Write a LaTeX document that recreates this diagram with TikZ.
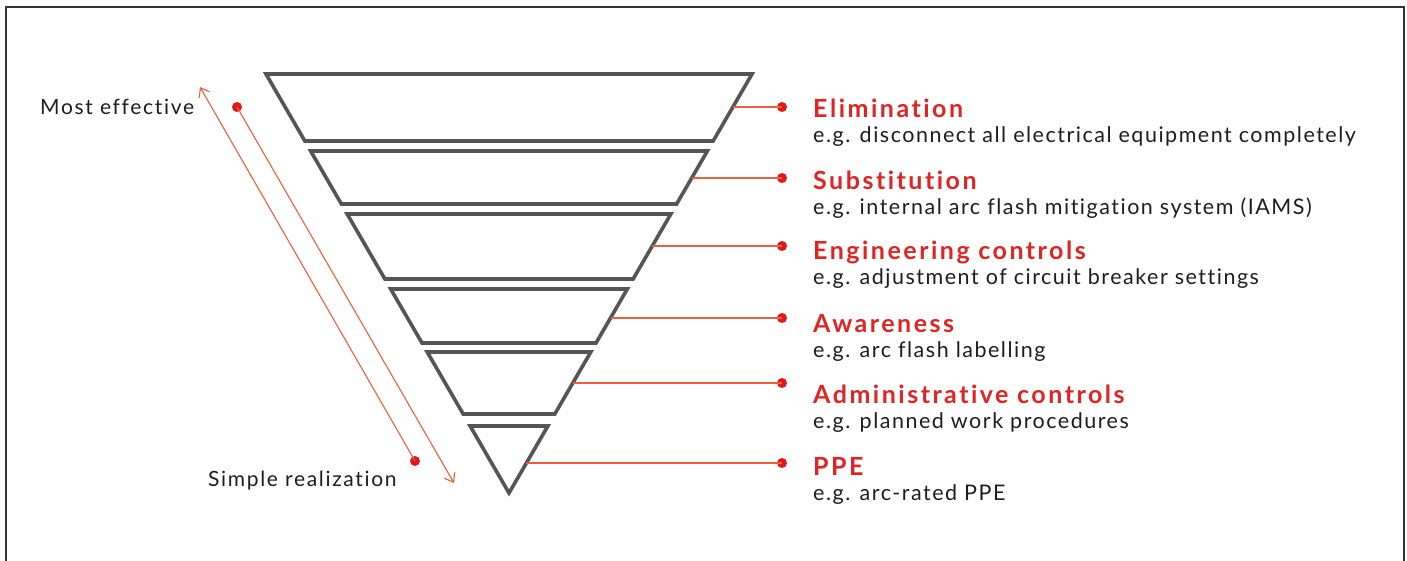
\documentclass[tikz,border=0pt]{standalone}
\usepackage{fontspec}
\setmainfont{Lato}
\newfontfamily\ttlfont[LetterSpace=10,Ligatures=NoCommon]{Lato}
\newfontfamily\dscfont[LetterSpace=7,Ligatures=NoCommon]{Lato}
\newfontfamily\sidefont[LetterSpace=8,Ligatures=NoCommon]{Lato}
\usetikzlibrary{arrows.meta}
\definecolor{bandgray}{HTML}{555555}
\definecolor{linered}{HTML}{E8603C}
\definecolor{dotred}{HTML}{E01818}
\definecolor{titlered}{HTML}{E02424}
\definecolor{textdark}{HTML}{1E1E1E}
\tikzset{
  band/.style={draw=bandgray, line width=3.6pt, line join=miter},
  conn/.style={draw=linered, line width=1.3pt},
  rdot/.style={circle, fill=dotred, inner sep=0pt, minimum size=10pt},
  ttl/.style={anchor=base west, inner sep=0pt, text=titlered, font=\ttlfont\fontsize{25}{28}\selectfont\bfseries},
  dsc/.style={anchor=base west, inner sep=0pt, text=textdark, font=\dscfont\fontsize{21.5}{24}\selectfont},
  side/.style={anchor=base west, inner sep=0pt, text=textdark, font=\sidefont\fontsize{21}{24}\selectfont},
  arr/.style={draw=linered, line width=1.1pt, -{Straight Barb[length=8pt,width=12pt]}},
}
\begin{document}
\begin{tikzpicture}[x=1pt,y=-1pt]
\useasboundingbox (0,0) rectangle (1407,560);
\fill[white] (0,0) rectangle (1407,560);
\draw[line width=2pt, draw=black!80] (6,7) rectangle (1404,580);
% bands: half-width = 0.58*(493-y), centre 509
\foreach \t/\b in {74/141,151/204,214/279,289/343,352/414} {
  \draw[band] ({509-0.58*(493-\t)},\t) -- ({509+0.58*(493-\t)},\t)
      -- ({509+0.58*(493-\b)},\b) -- ({509-0.58*(493-\b)},\b) -- cycle;
}
\draw[band] ({509-0.58*(493-426)},426) -- ({509+0.58*(493-426)},426) -- (509,493) -- cycle;
% connector start points on band right edges
\foreach \n/\y in {e1/107,e2/178,e3/246,e4/318,e5/383,e6/463} {
  \coordinate (\n) at ({509+0.58*(493-\y)},\y);
  \node[rdot] (d\n) at (782,\y) {};
  \draw[conn] (\n) -- (d\n.center);
}
% titles and descriptions
\node[ttl] (t1) at (813,117) {Elimination};
\node[dsc] (s1) at (813,142) {e.g. disconnect all electrical equipment completely};
\node[ttl] (t2) at (813,189) {Substitution};
\node[dsc] (s2) at (813,214) {e.g. internal arc flash mitigation system (IAMS)};
\node[ttl] (t3) at (813,259) {Engineering controls};
\node[dsc] (s3) at (813,284) {e.g. adjustment of circuit breaker settings};
\node[ttl] (t4) at (813,332) {Awareness};
\node[dsc] (s4) at (813,357) {e.g. arc flash labelling};
\node[ttl] (t5) at (813,403) {Administrative controls};
\node[dsc] (s5) at (813,428) {e.g. planned work procedures};
\node[ttl] (t6) at (813,475) {PPE};
\node[dsc] (s6) at (813,500) {e.g. arc-rated PPE};
% left side
\node[side] (most) at (40,114) {Most effective};
\node[side] (simple) at (208,486) {Simple realization};
\node[rdot] (la) at (415,461) {};
\coordinate (latip) at (200,87);
\node[rdot] (lb) at (237,107) {};
\coordinate (lbtip) at (454,483);
\draw[arr] (la.center) -- (latip);
\draw[arr] (lb.center) -- (lbtip);
\end{tikzpicture}
\end{document}
